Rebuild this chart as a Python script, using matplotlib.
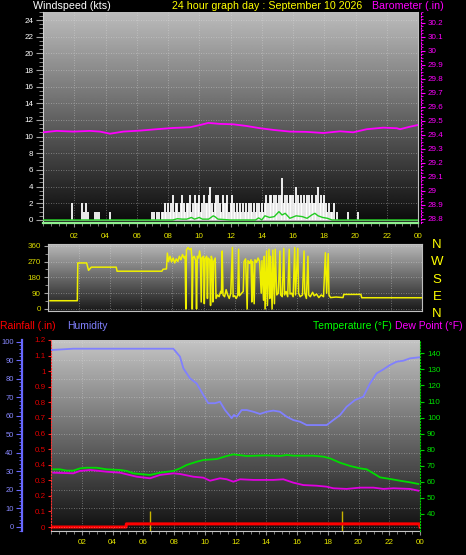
import numpy as np
import matplotlib
matplotlib.use('Agg')
import matplotlib.pyplot as plt
from matplotlib.ticker import MultipleLocator

plt.rcParams['font.family'] = ['Liberation Sans', 'DejaVu Sans']

# ---------------- data ----------------
hour_ticks = [2, 4, 6, 8, 10, 12, 14, 16, 18, 20, 22, 24]
hour_labels = ['02', '04', '06', '08', '10', '12', '14', '16', '18', '20', '22', '00']

# wind gusts (kts) - sparse readings
gust_sparse_h = [1.84, 2.48, 2.60, 2.73, 2.90, 3.30, 3.45, 3.60, 4.30, 19.54, 20.18]
gust_sparse_v = [2, 2, 1, 2, 1, 1, 1, 1, 1, 1, 1]
# wind gusts (kts) - busy period 07:00 .. 18:54, one reading every 6 minutes
gust_busy_start = 7.0
gust_busy_step = 0.1
gust_busy_v = [1, 1, 0, 1, 1, 0, 1, 1, 2, 1,
               2, 1, 2, 3, 1, 2, 2, 1, 2, 3,
               2, 1, 2, 2, 3, 1, 2, 3, 2, 2,
               3, 1, 2, 3, 2, 2, 3, 4, 2, 1,
               2, 3, 3, 2, 1, 3, 2, 2, 3, 1,
               2, 3, 2, 1, 2, 1, 2, 1, 2, 1,
               2, 1, 2, 2, 1, 2, 1, 2, 2, 1,
               2, 1, 2, 3, 2, 3, 3, 2, 3, 3,
               2, 3, 3, 5, 2, 3, 3, 2, 3, 3,
               3, 2, 4, 3, 2, 3, 2, 3, 2, 3,
               3, 2, 3, 2, 2, 3, 4, 2, 3, 2,
               3, 2, 1, 2, 1, 1, 2, 0, 1, 0]

# average wind speed (kts)
avg_h = [0, 8.3, 8.6, 8.9, 9.2, 9.5, 9.7, 10.0, 10.2, 10.6, 10.9, 11.0, 11.2, 12.0, 13.0,
         13.6, 13.8, 14.0, 14.2, 14.5, 14.8, 15.1, 15.3, 15.5, 15.8, 16.2, 16.6, 16.9, 17.2,
         17.4, 17.6, 17.9, 18.2, 18.5, 24]
avg_v = [0, 0, 0.15, 0.1, 0.1, 0.3, 0.1, 0.3, 0.1, 0.1, 0.5, 0.4, 0.1, 0.0, 0.0,
         0.0, 0.25, 0.0, 0.5, 0.3, 0.4, 1.0, 0.6, 0.8, 0.2, 0.5, 0.4, 0.2, 0.6,
         0.8, 0.5, 0.3, 0.2, 0.0, 0]

# barometer (inHg)
baro_h = [0.02, 0.87, 1.94, 3.0, 3.65, 4.29, 5.14, 6.21, 7.27, 8.34, 9.41, 10.05, 10.58, 11.33,
          12.18, 13.03, 13.89, 14.74, 15.81, 16.87, 17.94, 19.01, 19.86, 20.72, 21.78, 22.64,
          22.85, 23.49, 24.0]
baro_v = [29.418, 29.428, 29.423, 29.428, 29.423, 29.408, 29.423, 29.430, 29.440, 29.449,
          29.454, 29.470, 29.485, 29.478, 29.475, 29.463, 29.447, 29.435, 29.423, 29.421,
          29.413, 29.425, 29.418, 29.440, 29.451, 29.447, 29.440, 29.458, 29.470]
baro_ticks = [28.8, 28.9, 29.0, 29.1, 29.2, 29.3, 29.4, 29.5, 29.6, 29.7, 29.8, 29.9, 30.0, 30.1, 30.2]
baro_labels = ['28.8', '28.9', '29', '29.1', '29.2', '29.3', '29.4', '29.5', '29.6', '29.7',
               '29.8', '29.9', '30', '30.1', '30.2']

# wind direction (degrees)
dir_h = [0.15, 1.90, 1.93, 2.50, 2.62, 2.80, 4.40, 4.45, 7.33, 7.40, 7.62, 7.68, 7.75, 7.85, 7.95,
         8.05, 8.15, 8.25, 8.35, 8.45, 8.55, 8.65, 8.75, 8.82, 8.86, 8.90, 9.00, 9.10, 9.20, 9.25,
         9.28, 9.32, 9.40, 9.50, 9.55, 9.60, 9.68, 9.75, 9.80, 9.85, 9.90, 10.00, 10.05, 10.10,
         10.20, 10.25, 10.30, 10.40, 10.45, 10.50, 10.55, 10.60, 10.65, 10.75, 10.80, 10.90,
         11.00, 11.10, 11.15, 11.20, 11.25, 11.35, 11.45, 11.55, 11.65, 11.75, 11.85, 11.90,
         12.00, 12.10, 12.20, 12.25, 12.30, 12.45, 12.55, 12.60, 12.70, 12.80, 12.85, 12.95,
         13.05, 13.10, 13.15, 13.25, 13.30, 13.40, 13.50, 13.60, 13.70, 13.75, 13.85, 13.90,
         13.95, 14.05, 14.10, 14.20, 14.25, 14.30, 14.40, 14.45, 14.55, 14.60, 14.70, 14.80,
         14.90, 14.95, 15.05, 15.15, 15.20, 15.30, 15.40, 15.50, 15.55, 15.65, 15.75, 15.85,
         15.90, 16.05, 16.10, 16.20, 16.35, 16.45, 16.50, 16.60, 16.70, 16.75, 16.85, 17.00,
         17.10, 17.25, 17.40, 17.55, 17.70, 17.82, 17.90, 18.00, 18.05, 18.15, 18.50, 18.95,
         19.00, 20.10, 20.15, 24.00]
dir_v = [47, 47, 262, 262, 220, 238, 238, 215, 215, 226, 228, 318, 270, 300, 268,
         290, 262, 285, 270, 300, 280, 310, 290, 300, 0, 335, 350, 338, 345, 300,
         0, 290, 300, 275, 0, 300, 290, 330, 300, 40, 290, 300, 30, 285,
         300, 60, 290, 280, 20, 300, 280, 40, 270, 290, 60, 80,
         70, 100, 90, 330, 80, 70, 110, 80, 60, 90, 350, 70,
         75, 60, 80, 340, 75, 90, 100, 270, 285, 0, 275, 260,
         280, 40, 270, 30, 280, 265, 290, 270, 90, 275, 50, 300,
         0, 330, 20, 340, 60, 300, 0, 335, 30, 340, 80, 90,
         330, 80, 70, 345, 80, 100, 70, 340, 85, 90, 70, 350,
         80, 345, 90, 70, 80, 330, 90, 60, 300, 80, 70, 95,
         75, 85, 65, 80, 70, 320, 90, 315, 80, 65, 68, 65,
         83, 83, 64, 64]
compass = ['N', 'W', 'S', 'E', 'N']

# humidity (%)
hum_h = [0, 1.45, 7.96, 8.39, 8.61, 9.04, 9.47, 9.91, 10.23, 10.67, 10.99, 11.32, 11.75, 11.9,
         12.08, 12.40, 12.73, 13.16, 13.59, 14.03, 14.46, 14.89, 15.33, 15.76, 16.2, 16.63,
         17.28, 17.93, 18.36, 18.8, 19.23, 19.77, 20.31, 20.75, 21.18, 21.61, 22.05, 22.48,
         22.91, 23.35, 24.0]
hum_v = [95.5, 96.2, 96.2, 91.9, 85.6, 80.2, 77.5, 71.2, 66.8, 66.8, 67.6, 63.1, 58.7, 60.5,
         59.5, 63.1, 63.1, 62.2, 61.0, 62.2, 62.8, 62.2, 59.5, 57.7, 56.8, 55.0,
         55.0, 55.0, 57.7, 60.4, 64.9, 68.5, 70.3, 77.5, 82.9, 85.0, 87.4, 89.2,
         89.7, 91.0, 91.6]

# temperature (F)
temp_h = [0.14, 0.59, 1.02, 1.45, 1.89, 2.32, 2.97, 3.62, 4.49, 4.92, 5.35, 5.79, 6.44, 7.09,
          7.96, 8.39, 8.82, 9.47, 9.91, 10.78, 11.43, 11.86, 12.73, 14.03, 14.89, 15.33, 15.76,
          17.06, 17.71, 18.15, 18.80, 19.45, 20.1, 20.53, 20.97, 21.4, 22.05, 22.7, 23.35, 23.89]
temp_v = [67.8, 67.8, 67.0, 67.0, 68.4, 68.8, 68.8, 67.8, 67.4, 66.8, 65.3, 64.9, 64.3, 65.7,
          66.8, 68.4, 70.5, 72.5, 73.6, 74.2, 76.1, 77.1, 76.1, 76.5, 76.1, 76.7, 76.3,
          76.3, 75.7, 74.6, 71.9, 69.9, 68.4, 67.8, 65.3, 62.8, 61.8, 60.7, 59.7, 58.7]

# dew point (F)
dew_h = [0.14, 1.45, 1.89, 2.54, 3.62, 4.49, 4.92, 5.57, 6.44, 7.09, 7.96, 8.39, 9.26, 9.91,
         10.34, 10.99, 11.43, 11.86, 12.3, 13.16, 14.46, 15.11, 15.76, 16.41, 17.28, 17.93,
         18.36, 19.23, 20.1, 20.97, 21.62, 22.27, 23.35, 23.89]
dew_v = [65.7, 65.3, 66.8, 67.4, 66.3, 65.7, 64.7, 63.2, 62.2, 64.3, 65.3, 64.9, 63.2, 62.6,
         60.7, 62.2, 61.6, 60.1, 61.6, 61.2, 61.2, 61.6, 59.5, 58.0, 57.6, 57.0,
         56.0, 55.6, 56.4, 56.4, 55.6, 56.0, 55.6, 54.5]

# rainfall (in)
rain_h = [0, 4.88, 4.90, 23.95, 24.0]
rain_v = [0, 0, 0.02, 0.02, 0]
rain_event_h = [6.44, 18.9]
rain_event_v = [0.10, 0.10]

# ---------------- figure ----------------
W, H = 466, 555
fig = plt.figure(figsize=(W / 100, H / 100), dpi=100, facecolor='black')


def add_px_axes(l, t, r, b):
    return fig.add_axes([l / W, 1 - b / H, (r - l) / W, (b - t) / H])


def paint_gradient(ax, top, bottom):
    x0, x1 = ax.get_xlim()
    y0, y1 = ax.get_ylim()
    g = np.linspace(top, bottom, 256).reshape(-1, 1)
    ax.imshow(g, cmap='gray', vmin=0, vmax=1, aspect='auto', extent=[x0, x1, y0, y1],
              origin='upper', zorder=0, interpolation='bilinear')
    ax.set_xlim(x0, x1)
    ax.set_ylim(y0, y1)


GRID = dict(color='#e0e0e0', linewidth=0.6, linestyle=(0, (1, 2)), alpha=0.5)
TFS = 5.8
XCOL = '#e6e600'


def ftext(x, y, s, **kw):
    fig.text(x / W, 1 - y / H, s, **kw)


# titles
ftext(33, 6, 'Windspeed (kts)', color='white', fontsize=7.7, va='center')
ftext(172, 6, '24 hour graph day : September 10 2026', color='#ffff00', fontsize=7.7, va='center')
ftext(372, 6, 'Barometer (.in)', color='#ff00ff', fontsize=7.7, va='center')

# ---- top panel: wind speed + barometer ----
ax1 = add_px_axes(43, 11.7, 418, 223.3)
ax1.set_xlim(0, 24)
ax1.set_ylim(-0.4, 25)
paint_gradient(ax1, 0.74, 0.04)
busy_h = [gust_busy_start + i * gust_busy_step for i in range(len(gust_busy_v))]
ax1.vlines(gust_sparse_h + busy_h, 0, gust_sparse_v + gust_busy_v, color='white', lw=1.3, zorder=3)
ax1.axhline(0, color='#b8b8b8', lw=0.9, zorder=2)
ax1.plot(avg_h, avg_v, color='#22cc22', lw=1.0, zorder=4)
ax1.set_xticks(hour_ticks)
ax1.set_xticklabels(hour_labels)
ax1.xaxis.set_minor_locator(MultipleLocator(0.5))
ax1.set_yticks(range(0, 25, 2))
ax1.yaxis.set_minor_locator(MultipleLocator(0.5))
ax1.tick_params(axis='x', which='major', colors='#909090', labelcolor=XCOL, labelsize=TFS, length=3, pad=4)
ax1.tick_params(axis='x', which='minor', colors='#909090', length=2)
ax1.tick_params(axis='y', which='major', colors='#a0a0a0', labelcolor='white', labelsize=TFS, length=5, pad=2)
ax1.tick_params(axis='y', which='minor', colors='#a0a0a0', length=3)
ax1.grid(True, which='major', **GRID)
ax1.spines['left'].set_color('#d0d0d0')
ax1.spines['bottom'].set_color('#90f090')
ax1.spines['bottom'].set_linewidth(1.6)
ax1.spines['top'].set_visible(False)
ax1.spines['right'].set_color('#c0c0c0')

ax1b = ax1.twinx()
ax1b.set_ylim(28.769, 30.278)
ax1b.plot(baro_h, baro_v, color='#ff00ff', lw=1.3, zorder=5)
ax1b.set_yticks(baro_ticks)
ax1b.set_yticklabels(baro_labels)
ax1b.yaxis.set_minor_locator(MultipleLocator(0.025))
ax1b.tick_params(axis='y', which='major', colors='#ff00ff', labelsize=TFS, length=3, pad=2)
ax1b.tick_params(axis='y', which='minor', colors='#ff00ff', length=1.5)
for s in ['left', 'top', 'bottom']:
    ax1b.spines[s].set_visible(False)
ax1b.spines['right'].set_color('#ff00ff')
ax1b.spines['right'].set_linestyle(':')
ax1b.spines['right'].set_position(('outward', 2))

# ---- middle panel: wind direction ----
ax2 = add_px_axes(47.7, 244, 421.7, 311)
ax2.set_xlim(0, 24)
ax2.set_ylim(-11.4, 369.7)
paint_gradient(ax2, 0.72, 0.10)
ax2.plot(dir_h, dir_v, color='#f0f000', lw=1.1, zorder=3)
ax2.set_yticks([0, 90, 180, 270, 360])
ax2.yaxis.set_minor_locator(MultipleLocator(45))
ax2.set_xticks(hour_ticks)
ax2.tick_params(axis='x', length=0, labelbottom=False)
ax2.tick_params(axis='y', which='major', colors='#a0a0a0', labelcolor='#d8d800', labelsize=TFS, length=3, pad=2)
ax2.tick_params(axis='y', which='minor', colors='#a0a0a0', length=2)
ax2.grid(True, **GRID)
for s in ['left', 'top', 'bottom', 'right']:
    ax2.spines[s].set_color('#c0c0c0')
for lab, yy in zip(compass, [245, 262, 280, 297, 314]):
    ftext(437, yy, lab, color='#ffff00', fontsize=9.5, ha='center', va='center')

# ---- bottom panel headers ----
ftext(0, 326, 'Rainfall (.in)', color='#ff0000', fontsize=7.5, va='center')
ftext(67, 326, 'Humidity', color='#8080ff', fontsize=7.5, va='center')
ftext(313, 326, 'Temperature (°F)', color='#00ff00', fontsize=7.5, va='center')
ftext(395, 326, 'Dew Point (°F)', color='#ff00ff', fontsize=7.5, va='center')

# ---- bottom panel: rain / humidity / temperature ----
ax3 = add_px_axes(51, 340, 420, 531)
ax3.set_xlim(0, 24)
ax3.set_ylim(-0.0256, 1.1957)
paint_gradient(ax3, 0.77, 0.06)
ax3.vlines(rain_event_h, -0.03, rain_event_v, color='#c8b400', lw=1.0, zorder=3)
ax3.plot(rain_h, rain_v, color='#ff0000', lw=2.2, zorder=4)
ax3.set_xticks(hour_ticks)
ax3.set_xticklabels(hour_labels)
ax3.xaxis.set_minor_locator(MultipleLocator(0.5))
ax3.set_yticks(np.round(np.arange(0, 1.21, 0.1), 1))
ax3.set_yticklabels(['0', '0.1', '0.2', '0.3', '0.4', '0.5', '0.6', '0.7', '0.8', '0.9', '1', '1.1', '1.2'])
ax3.tick_params(axis='x', which='major', colors='#909090', labelcolor=XCOL, labelsize=TFS, length=3, pad=3)
ax3.tick_params(axis='x', which='minor', colors='#909090', length=2)
ax3.tick_params(axis='y', colors='#ff2020', labelcolor='#e00000', labelsize=TFS, length=2, pad=2)
ax3.grid(True, axis='x', **GRID)
ax3.spines['left'].set_color('#ff3030')
ax3.spines['left'].set_linestyle(':')
ax3.spines['bottom'].set_color('#c8c8c8')
ax3.spines['top'].set_visible(False)
ax3.spines['right'].set_visible(False)

hum = ax3.twinx()
hum.set_ylim(-2.16, 100.9)
hum.yaxis.set_ticks_position('left')
hum.yaxis.set_label_position('left')
hum.spines['left'].set_visible(True)
hum.spines['left'].set_position(('outward', 21))
hum.spines['left'].set_color('#6868ff')
hum.spines['left'].set_linewidth(1.6)
for s in ['right', 'top', 'bottom']:
    hum.spines[s].set_visible(False)
hum.set_yticks(range(0, 101, 10))
hum.yaxis.set_minor_locator(MultipleLocator(2))
hum.tick_params(axis='y', which='major', colors='#6868ff', labelcolor='#8888ff', labelsize=5.4, length=4, pad=2)
hum.tick_params(axis='y', which='minor', colors='#6868ff', length=2.5)
hum.grid(True, axis='y', **GRID)
hum.plot(hum_h, hum_v, color='#8080ff', lw=1.3, zorder=3)

temp = ax3.twinx()
temp.set_ylim(29.4, 148.3)
for s in ['left', 'top', 'bottom']:
    temp.spines[s].set_visible(False)
temp.spines['right'].set_color('#00d000')
temp.spines['right'].set_linestyle(':')
temp.set_yticks(range(40, 141, 10))
temp.tick_params(axis='y', colors='#00d000', labelcolor='#00e000', labelsize=TFS, length=3, pad=2)
temp.plot(temp_h, temp_v, color='#00dd00', lw=1.3, zorder=3)
temp.plot(dew_h, dew_v, color='#e000e0', lw=1.3, zorder=3)

fig.savefig('out.png', dpi=100, facecolor='black')
